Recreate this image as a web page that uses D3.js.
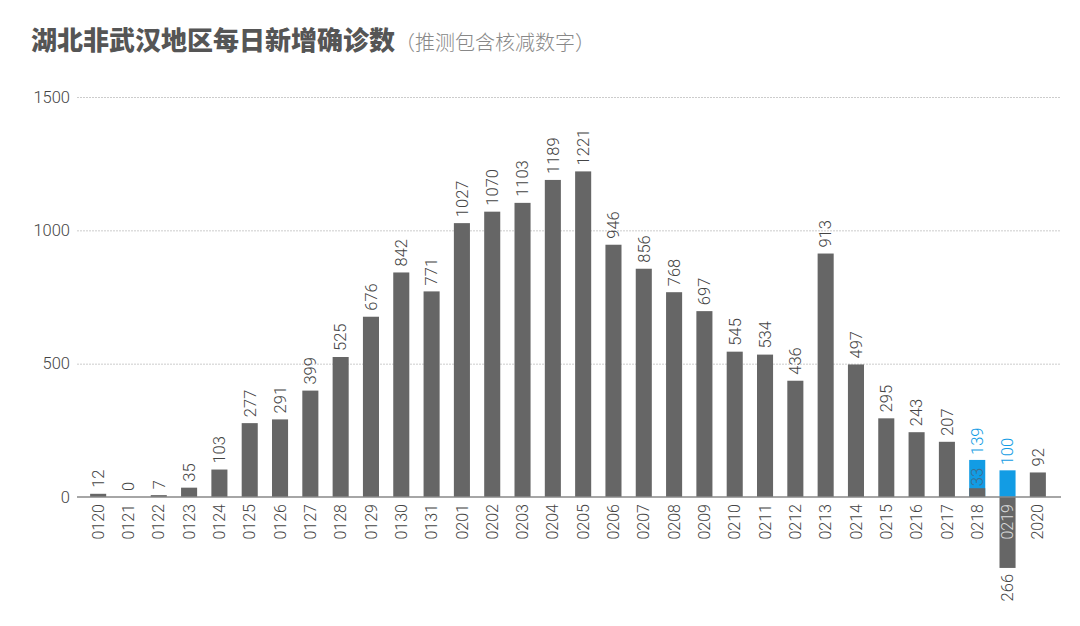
<!DOCTYPE html>
<html>
<head>
<meta charset="utf-8">
<script src="https://cdn.jsdelivr.net/npm/d3@7"></script>
<style>
  body { margin: 0; background: #fff; }
  svg text { font-family: Roboto, "Liberation Sans", Arial, sans-serif; font-weight: 300; }
  .grid line { stroke: #ccc; stroke-dasharray: 2,1; }
  .grid path { display: none; }
</style>
</head>
<body>
<script>
// daily new confirmed cases, Hubei excluding Wuhan
var dates = ["0120","0121","0122","0123","0124","0125","0126","0127","0128","0129","0130","0131",
             "0201","0202","0203","0204","0205","0206","0207","0208","0209","0210","0211","0212",
             "0213","0214","0215","0216","0217","0218","0219","2020"];
var values = [12,0,7,35,103,277,291,399,525,676,842,771,
              1027,1070,1103,1189,1221,946,856,768,697,545,534,436,
              913,497,295,243,207,33,-266,92];
// blue bars (figures including the revised numbers)
var blueDates = ["0218","0219"];
var blueValues = [139,100];
var yTicks = [0,500,1000,1500];

var W = 1080, H = 626;
var grey = "#666666", blue = "#129ce4", txt = "#444";

var svg = d3.select("body").append("svg")
    .attr("width", W).attr("height", H);

var x = d3.scaleBand().domain(dates).range([83, 1053]).paddingInner(0.47).paddingOuter(0.235);
var y = d3.scaleLinear().domain([0, 1500]).range([497, 97]);

// title
var title = svg.append("text")
    .attr("x", 31).attr("y", 50);
title.append("tspan")
    .style("font-family", "'Noto Sans CJK SC', sans-serif")
    .style("font-weight", "900")
    .style("font-size", "26px")
    .style("fill", "#555")
    .text("湖北非武汉地区每日新增确诊数");
title.append("tspan")
    .style("font-family", "'Noto Sans CJK SC', sans-serif")
    .style("font-weight", "300")
    .style("font-size", "20px")
    .style("fill", "#888")
    .text("（推测包含核减数字）");

// gridlines
svg.append("g")
    .attr("class", "grid")
    .attr("transform", "translate(77,0)")
    .call(d3.axisRight(y).tickValues(yTicks.filter(function(d){ return d > 0; }))
        .tickSize(984).tickFormat(""));

// y labels
svg.append("g")
    .attr("transform", "translate(77,0)")
    .call(d3.axisLeft(y).tickValues(yTicks).tickSize(0).tickPadding(7).tickFormat(d3.format("d")))
    .call(function(g) {
        g.select(".domain").remove();
        g.selectAll("text").style("font-size", "16.5px").style("fill", txt)
            .style("font-family", "Roboto, 'Liberation Sans', Arial, sans-serif");
    });

// blue bars
svg.selectAll(".bbar")
    .data(blueDates)
    .enter().append("rect")
    .attr("x", function(d) { return x(d); })
    .attr("width", x.bandwidth())
    .attr("y", function(d, i) { return y(blueValues[i]); })
    .attr("height", function(d, i) { return y(0) - y(blueValues[i]); })
    .style("fill", blue);

// grey bars
svg.selectAll(".gbar")
    .data(dates)
    .enter().append("rect")
    .attr("x", function(d) { return x(d); })
    .attr("width", x.bandwidth())
    .attr("y", function(d, i) { return y(Math.max(0, values[i])); })
    .attr("height", function(d, i) { return Math.abs(y(values[i]) - y(0)); })
    .style("fill", grey);

var cx = function(d) { return x(d) + x.bandwidth() / 2; };

// grey value labels
svg.selectAll(".glab")
    .data(dates)
    .enter().append("text")
    .attr("transform", function(d, i) {
        var v = values[i];
        var gap = d == "0218" ? 2 : 6;
        var yy = v >= 0 ? y(v) - gap : y(v) + gap;
        return "translate(" + cx(d) + "," + yy + ") rotate(-90)";
    })
    .attr("text-anchor", function(d, i) { return values[i] >= 0 ? "start" : "end"; })
    .attr("dy", "0.35em")
    .style("font-size", "16.5px")
    .style("fill", function(d) { return d == "0218" ? "#3d6f92" : txt; })
    .text(function(d, i) { return Math.abs(values[i]); });

// blue value labels
svg.selectAll(".blab")
    .data(blueDates)
    .enter().append("text")
    .attr("transform", function(d, i) {
        return "translate(" + cx(d) + "," + (y(blueValues[i]) - 5) + ") rotate(-90)";
    })
    .attr("text-anchor", "start")
    .attr("dy", "0.35em")
    .style("font-size", "16.5px")
    .style("fill", blue)
    .text(function(d, i) { return blueValues[i]; });

// x axis
svg.append("g")
    .attr("transform", "translate(0," + y(0) + ")")
    .call(d3.axisBottom(x).tickSize(0).tickPadding(0))
    .call(function(g) {
        g.select(".domain").attr("d", "M77,0H1061").style("stroke", "#888").style("stroke-width", 1.5);
        g.selectAll("text")
            .attr("transform", "translate(0,7) rotate(-90)")
            .attr("text-anchor", "end")
            .attr("x", 0).attr("y", 0)
            .attr("dy", "0.35em")
            .style("font-size", "16px")
            .style("font-family", "Roboto, 'Liberation Sans', Arial, sans-serif")
            .style("fill", function(d, i) { return values[i] < 0 ? "#ddd" : txt; });
    });
</script>
</body>
</html>
